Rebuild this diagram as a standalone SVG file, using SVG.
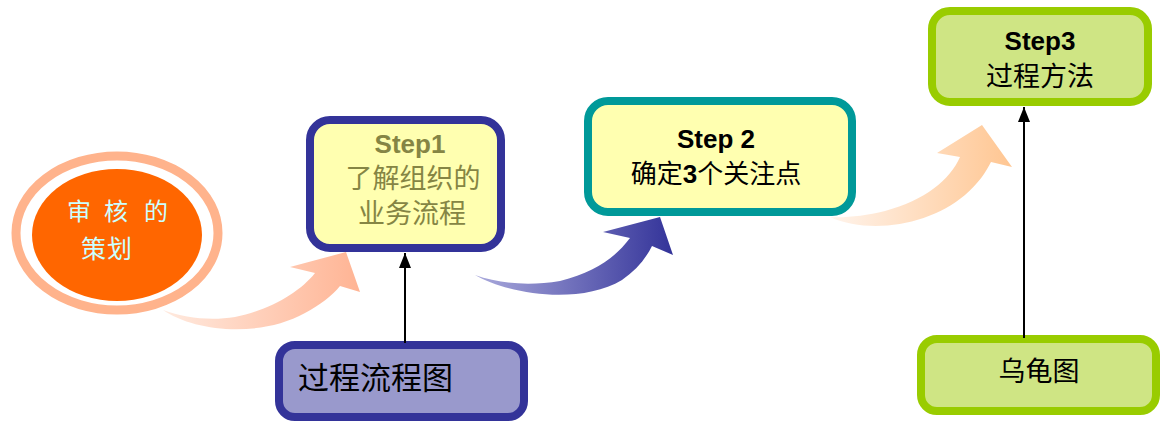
<svg xmlns="http://www.w3.org/2000/svg" width="1160" height="421" viewBox="0 0 1160 421">
<style>
text{font-family:"Liberation Sans","Noto Sans CJK SC",sans-serif}
.step{font-weight:bold;font-size:26px;text-anchor:middle}
.cn{font-size:27px;text-anchor:middle}
.conn{stroke:#000;stroke-width:2;fill:none}
</style>
<defs>
<linearGradient id="g1" x1="0" y1="0" x2="1" y2="0"><stop offset="0" stop-color="#ffeadf"/><stop offset="1" stop-color="#ffb494"/></linearGradient>
<linearGradient id="g2" x1="0" y1="0" x2="1" y2="0"><stop offset="0" stop-color="#aaaadc"/><stop offset="1" stop-color="#333399"/></linearGradient>
<linearGradient id="g3" x1="0" y1="0" x2="1" y2="0"><stop offset="0" stop-color="#fff4ec"/><stop offset="1" stop-color="#ffc692"/></linearGradient>
<marker id="ah" viewBox="0 0 15 12" refX="15" refY="6" markerWidth="15" markerHeight="12" markerUnits="userSpaceOnUse" orient="auto"><path d="M0,0 L15,6 L0,12 Z" fill="#000"/></marker>
</defs>
<g id="flow-arrows">
<path d="M163,310 C195,332 260,338 305,313 C320,305 332,296 340,286 L360,292 L346,252 L290,267 L315,273 C300,292 270,310 235,317 C210,321 185,318 163,310 Z" fill="url(#g1)"/>
<path d="M475,275 C510,295 580,305 622,280 C635,271 645,260 652,246 L673,255 L660,217 L603,232 L630,238 C615,258 595,272 560,281 C530,286 500,284 475,275 Z" fill="url(#g2)"/>
<path d="M830,217 C870,235 930,225 965,195 C978,184 986,172 991,162 L1012,167 L982,125 L937,153 L960,157 C950,180 925,200 885,211 C865,216 845,218 830,217 Z" fill="url(#g3)"/>
</g>
<g id="audit-plan">
<ellipse cx="117" cy="233" rx="101" ry="77" fill="none" stroke="#ffb38c" stroke-width="9"/>
<ellipse cx="117" cy="235" rx="85" ry="66" fill="#ff6600"/>
<text font-size="24" fill="#ccffff" x="67 91 104 128 144" y="220">审 核 的</text>
<text font-size="25" fill="#ccffff" x="81 107" y="258">策划</text>
</g>
<g id="step1">
<rect x="310" y="120" width="191" height="128" rx="20" fill="#ffffb0" stroke="#333399" stroke-width="8"/>
<text class="step" x="410" y="153" fill="#858544">Step1</text>
<text class="cn" x="413" y="188" fill="#858544">了解组织的</text>
<text class="cn" x="412" y="223" fill="#858544">业务流程</text>
</g>
<g id="step2">
<rect x="588" y="101" width="264" height="111" rx="20" fill="#ffffb0" stroke="#009999" stroke-width="8"/>
<text class="step" x="716" y="148" fill="#000">Step 2</text>
<text x="716" y="183" font-size="26" text-anchor="middle" fill="#000">确定<tspan font-weight="bold">3</tspan>个关注点</text>
</g>
<g id="step3">
<rect x="932" y="11" width="216" height="91" rx="18" fill="#cfe584" stroke="#99cc00" stroke-width="8"/>
<text class="step" x="1040" y="50" fill="#000">Step3</text>
<text class="cn" x="1040" y="86" fill="#000">过程方法</text>
</g>
<g id="process-flowchart">
<rect x="279" y="345" width="245" height="72" rx="16" fill="#9999cc" stroke="#333399" stroke-width="8"/>
<text x="298" y="389" font-size="31" fill="#000">过程流程图</text>
</g>
<g id="turtle-diagram">
<rect x="921" y="339" width="235" height="72" rx="16" fill="#cfe584" stroke="#99cc00" stroke-width="8"/>
<text class="cn" x="1039" y="381" fill="#000">乌龟图</text>
</g>
<g id="connectors">
<line class="conn" x1="405" y1="343" x2="405" y2="253" marker-end="url(#ah)"/>
<line class="conn" x1="1024" y1="338" x2="1024" y2="107" marker-end="url(#ah)"/>
</g>
</svg>
